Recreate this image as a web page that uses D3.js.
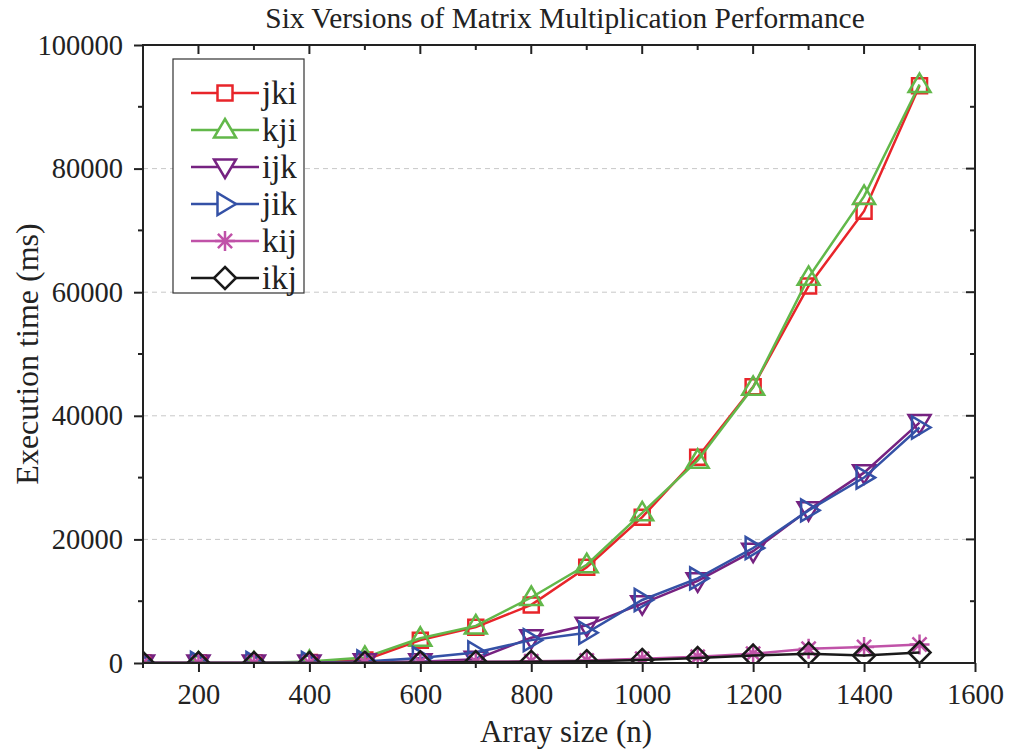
<!DOCTYPE html>
<html>
<head>
<meta charset="utf-8">
<script src="https://cdn.jsdelivr.net/npm/d3@7"></script>
<style>
  body { margin: 0; background: #fff; }
  text { font-family: "Liberation Serif", "Times New Roman", serif; fill: #222; }
</style>
</head>
<body>
<svg id="chart" width="1009" height="749"></svg>
<script>
const sizes = [100, 200, 300, 400, 500, 600, 700, 800, 900, 1000, 1100, 1200, 1300, 1400, 1500]

const jki = [0, 0, 0, 100, 500, 3700, 5800, 9400, 15500, 23600, 33300, 44700, 61000, 73100, 93400]
const kji = [0, 0, 0, 250, 900, 4000, 6000, 10600, 15900, 24300, 32800, 44600, 62400, 75500, 93600]
const ijk = [0, 0, 0, 0, 200, 200, 600, 4100, 6100, 9600, 13300, 18100, 24800, 30800, 38900]
const jik = [0, 0, 0, 0, 250, 800, 1700, 3700, 4900, 10200, 13700, 18600, 24700, 30000, 38100]
const kij = [0, 0, 0, 0, 100, 150, 200, 300, 400, 700, 1000, 1500, 2300, 2600, 3000]
const ikj = [0, 0, 0, 0, 50, 100, 150, 200, 300, 500, 800, 1200, 1500, 1200, 1700]

const seriesNames = ['jki', 'kji', 'ijk', 'jik', 'kij', 'ikj']
const seriesValues = [jki, kji, ijk, jik, kij, ikj]
const seriesColors = ['#e8252a', '#62b84a', '#762281', '#3451a6', '#c052a8', '#1a1a1a']
const seriesMarkers = ['square', 'up', 'down', 'right', 'asterisk', 'diamond']

const yTicks = [0, 20000, 40000, 60000, 80000, 100000]
const xTicks = [200, 400, 600, 800, 1000, 1200, 1400, 1600]

const pL = 143, pR = 975, pT = 45, pB = 663

const svg = d3.select('#chart')

const x = d3.scaleLinear().domain([100, 1600]).range([pL, pR])
const y = d3.scaleLinear().domain([0, 100000]).range([pB, pT])

// marker paths, centred on 0,0
function markerPath(kind) {
    const p = d3.path()
    if (kind === 'square') {
        p.rect(-7.5, -7.5, 15, 15)
    } else if (kind === 'up') {
        p.moveTo(0, -11); p.lineTo(11, 7.5); p.lineTo(-11, 7.5); p.closePath()
    } else if (kind === 'down') {
        p.moveTo(0, 11); p.lineTo(11, -7.5); p.lineTo(-11, -7.5); p.closePath()
    } else if (kind === 'right') {
        p.moveTo(11, 0); p.lineTo(-7.5, 11); p.lineTo(-7.5, -11); p.closePath()
    } else if (kind === 'diamond') {
        p.moveTo(0, -11); p.lineTo(11, 0); p.lineTo(0, 11); p.lineTo(-11, 0); p.closePath()
    } else {
        const r = 10
        for (let k = 0; k < 4; k++) {
            const a = k * Math.PI / 4
            p.moveTo(-r * Math.cos(a), -r * Math.sin(a))
            p.lineTo(r * Math.cos(a), r * Math.sin(a))
        }
    }
    return p.toString()
}

// grid
svg.append('g')
    .selectAll('line')
    .data(yTicks.filter(d => d > 0 && d < 100000))
    .enter().append('line')
    .attr('x1', pL).attr('x2', pR)
    .attr('y1', d => y(d)).attr('y2', d => y(d))
    .attr('stroke', '#c8c8c8')
    .attr('stroke-width', 1)
    .attr('stroke-dasharray', '5,4')

svg.append('clipPath').attr('id', 'plotclip')
    .append('rect')
    .attr('x', pL).attr('y', pT)
    .attr('width', pR - pL).attr('height', pB - pT)

const line = d3.line()
    .x((d, i) => x(sizes[i]))
    .y(d => y(d))

const plot = svg.append('g').attr('clip-path', 'url(#plotclip)')

seriesValues.forEach((vals, s) => {
    const g = plot.append('g').attr('class', 'series-' + seriesNames[s])
    g.append('path')
        .datum(vals)
        .attr('d', line)
        .attr('fill', 'none')
        .attr('stroke', seriesColors[s])
        .attr('stroke-width', 2.5)
    g.selectAll('path.marker')
        .data(vals)
        .enter().append('path')
        .attr('class', 'marker')
        .attr('transform', (d, i) => `translate(${x(sizes[i])},${y(d)})`)
        .attr('d', markerPath(seriesMarkers[s]))
        .attr('fill', 'none')
        .attr('stroke', seriesColors[s])
        .attr('stroke-width', 2.5)
})

// axes
const tickFont = '28.5px'
const xAxis = d3.axisBottom(x).tickValues(xTicks).tickSize(9).tickFormat(d3.format('d'))
const gx = svg.append('g').attr('transform', `translate(0,${pB})`).call(xAxis)
gx.selectAll('text').style('font-size', tickFont).attr('dy', '1.03em')

const yAxis = d3.axisLeft(y).tickValues(yTicks).tickSize(9).tickFormat(d3.format('d'))
const gy = svg.append('g').attr('transform', `translate(${pL},0)`).call(yAxis)
gy.selectAll('text').style('font-size', tickFont).attr('x', -20)

// minor ticks and mirrored ticks on top/right (pointing in)
const xMinor = d3.range(100, 1600, 200)
const yMinor = d3.range(10000, 100000, 20000)
const tickG = svg.append('g').attr('stroke', '#222').attr('stroke-width', 2)
tickG.selectAll('line.xm').data(xMinor).enter().append('line')
    .attr('x1', d => x(d)).attr('x2', d => x(d))
    .attr('y1', pB).attr('y2', pB + 5)
tickG.selectAll('line.ym').data(yMinor).enter().append('line')
    .attr('x1', pL - 5).attr('x2', pL)
    .attr('y1', d => y(d)).attr('y2', d => y(d))
tickG.selectAll('line.xt').data(xTicks).enter().append('line')
    .attr('x1', d => x(d)).attr('x2', d => x(d))
    .attr('y1', pT).attr('y2', pT + 9)
tickG.selectAll('line.xtm').data(xMinor).enter().append('line')
    .attr('x1', d => x(d)).attr('x2', d => x(d))
    .attr('y1', pT).attr('y2', pT + 5)
tickG.selectAll('line.yr').data(yTicks).enter().append('line')
    .attr('x1', pR - 9).attr('x2', pR)
    .attr('y1', d => y(d)).attr('y2', d => y(d))
tickG.selectAll('line.yrm').data(yMinor).enter().append('line')
    .attr('x1', pR - 5).attr('x2', pR)
    .attr('y1', d => y(d)).attr('y2', d => y(d))

svg.append('rect')
    .attr('x', pL).attr('y', pT)
    .attr('width', pR - pL).attr('height', pB - pT)
    .attr('fill', 'none').attr('stroke', '#222').attr('stroke-width', 2)

svg.selectAll('.tick line').attr('stroke', '#222').attr('stroke-width', 2)
svg.selectAll('.domain').remove()

// titles
svg.append('text')
    .attr('x', 565).attr('y', 28)
    .attr('text-anchor', 'middle')
    .style('font-size', '29.4px')
    .text('Six Versions of Matrix Multiplication Performance')

svg.append('text')
    .attr('x', 566).attr('y', 742)
    .attr('text-anchor', 'middle')
    .style('font-size', '31px')
    .text('Array size (n)')

svg.append('text')
    .attr('transform', `translate(38,${(pT + pB) / 2}) rotate(-90)`)
    .attr('text-anchor', 'middle')
    .style('font-size', '32px')
    .text('Execution time (ms)')

// legend
const lg = svg.append('g')
lg.append('rect')
    .attr('x', 173).attr('y', 59).attr('width', 131).attr('height', 234)
    .attr('fill', '#fff').attr('stroke', '#333').attr('stroke-width', 1.2)
const ly = d3.scalePoint().domain(seriesNames).range([93, 278])
seriesNames.forEach((name, s) => {
    const yy = ly(name)
    lg.append('line')
        .attr('x1', 191).attr('x2', 259).attr('y1', yy).attr('y2', yy)
        .attr('stroke', seriesColors[s]).attr('stroke-width', 2.5)
    lg.append('path')
        .attr('transform', `translate(225,${yy})`)
        .attr('d', markerPath(seriesMarkers[s]))
        .attr('fill', '#fff')
        .attr('stroke', seriesColors[s]).attr('stroke-width', 2.5)
    lg.append('text')
        .attr('x', 262).attr('y', yy).attr('dy', '0.33em')
        .style('font-size', '33px')
        .text(name)
})
</script>
</body>
</html>
